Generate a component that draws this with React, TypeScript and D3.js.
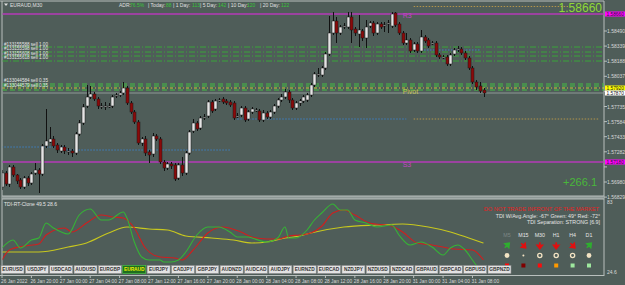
import * as d3 from "d3"

const W = 625
const H = 285

// EURAUD M30, bar 0 = 26 Jan 16:00
const opens = [
  1.5693, 1.5707, 1.5696, 1.5713, 1.5705, 1.57, 1.5693, 1.5702, 1.5697, 1.5707,
  1.571, 1.5706, 1.5734, 1.5738, 1.5741, 1.5735, 1.5729, 1.5733, 1.5729, 1.5729,
  1.5727, 1.5746, 1.5757, 1.5774, 1.5783, 1.5786, 1.5781, 1.5774, 1.5774, 1.5774,
  1.5774, 1.5784, 1.5785, 1.5787, 1.5792, 1.5777, 1.5768, 1.5758, 1.5737, 1.5741,
  1.5728, 1.5726, 1.5744, 1.5741, 1.5718, 1.5712, 1.5716, 1.5715, 1.5702, 1.5715,
  1.5707, 1.5727, 1.5749, 1.5757, 1.5752, 1.5763, 1.5764, 1.5778, 1.5771, 1.578,
  1.5781, 1.5779, 1.5778, 1.5777, 1.5764, 1.5765, 1.5772, 1.5761, 1.5768, 1.577,
  1.5769, 1.576, 1.5767, 1.5763, 1.5768, 1.5774, 1.578, 1.5783, 1.5788, 1.578,
  1.5772, 1.5777, 1.5779, 1.578, 1.5785, 1.5795, 1.5806, 1.5805, 1.5812, 1.5826,
  1.5847, 1.5859, 1.5847, 1.5854, 1.5853, 1.5863, 1.5851, 1.5846, 1.5849, 1.5842,
  1.5854, 1.5857, 1.5847, 1.5856, 1.5855, 1.5857, 1.5854, 1.5867, 1.5856, 1.5847,
  1.5837, 1.584, 1.583, 1.5836, 1.5829, 1.5843, 1.584, 1.5837, 1.5837, 1.5825,
  1.5823, 1.5823, 1.5816, 1.5826, 1.5831, 1.5831, 1.5827, 1.5822, 1.5812, 1.5798,
  1.5794, 1.579,
]
const highs = [
  1.571, 1.5709, 1.5715, 1.5715, 1.5706, 1.5702, 1.5704, 1.5704, 1.5708, 1.5717,
  1.5712, 1.5736, 1.5771, 1.5753, 1.5744, 1.5737, 1.5735, 1.5735, 1.5732, 1.5731,
  1.5748, 1.576, 1.5776, 1.5795, 1.5794, 1.5788, 1.5783, 1.5777, 1.5778, 1.5777,
  1.5785, 1.5787, 1.5789, 1.5798, 1.5794, 1.5779, 1.577, 1.576, 1.5743, 1.5744,
  1.573, 1.5747, 1.5746, 1.5743, 1.572, 1.5718, 1.5718, 1.5717, 1.5717, 1.5723,
  1.5729, 1.575, 1.5761, 1.5759, 1.5764, 1.5766, 1.578, 1.578, 1.5781, 1.5782,
  1.5783, 1.5781, 1.578, 1.5779, 1.5767, 1.5774, 1.5774, 1.577, 1.5773, 1.5772,
  1.5771, 1.577, 1.5769, 1.577, 1.5776, 1.5782, 1.5786, 1.5791, 1.579, 1.5782,
  1.5779, 1.5781, 1.5785, 1.5787, 1.5797, 1.5808, 1.5812, 1.5814, 1.5828, 1.5864,
  1.5868, 1.5863, 1.5855, 1.5857, 1.5868, 1.5868, 1.5853, 1.5865, 1.5851, 1.586,
  1.5859, 1.5859, 1.5858, 1.5858, 1.5858, 1.586, 1.5868, 1.5868, 1.5858, 1.5849,
  1.5847, 1.5842, 1.5838, 1.5838, 1.585, 1.5845, 1.5842, 1.5839, 1.5839, 1.5827,
  1.5825, 1.5825, 1.5827, 1.5832, 1.5834, 1.5833, 1.5829, 1.5824, 1.5814, 1.58,
  1.5798, 1.5792,
]
const lows = [
  1.569, 1.5694, 1.5693, 1.5703, 1.5696, 1.5691, 1.5691, 1.5694, 1.5695, 1.5705,
  1.5687, 1.5704, 1.5732, 1.5737, 1.5732, 1.5727, 1.5727, 1.5726, 1.5725, 1.5723,
  1.5725, 1.5744, 1.5755, 1.5772, 1.5781, 1.5779, 1.5771, 1.5771, 1.577, 1.5772,
  1.5772, 1.5782, 1.5783, 1.5785, 1.5775, 1.5766, 1.5756, 1.5735, 1.5734, 1.5724,
  1.5717, 1.5723, 1.5739, 1.5716, 1.5709, 1.571, 1.5711, 1.5699, 1.57, 1.5704,
  1.5705, 1.5725, 1.5747, 1.5749, 1.575, 1.576, 1.5762, 1.5767, 1.5769, 1.5778,
  1.5776, 1.5775, 1.5773, 1.576, 1.5762, 1.5763, 1.5758, 1.5759, 1.5766, 1.5768,
  1.5758, 1.5758, 1.5761, 1.5761, 1.5766, 1.5772, 1.5778, 1.5781, 1.5777, 1.577,
  1.577, 1.5774, 1.5777, 1.5778, 1.5783, 1.5793, 1.5803, 1.5803, 1.581, 1.5824,
  1.5845, 1.5837, 1.5845, 1.5851, 1.5851, 1.5837, 1.5844, 1.5833, 1.5839, 1.5832,
  1.5852, 1.5844, 1.5845, 1.5851, 1.5848, 1.5847, 1.5852, 1.5853, 1.5845, 1.5835,
  1.5835, 1.5827, 1.5828, 1.5827, 1.5827, 1.5837, 1.5832, 1.5835, 1.5823, 1.5821,
  1.5821, 1.5814, 1.5814, 1.5824, 1.5828, 1.5825, 1.582, 1.581, 1.5796, 1.579,
  1.5787, 1.5783,
]
const closes = [
  1.5707, 1.5696, 1.5713, 1.5705, 1.5699, 1.5693, 1.5702, 1.5697, 1.5706, 1.571,
  1.5706, 1.5734, 1.5739, 1.5741, 1.5734, 1.573, 1.5733, 1.5729, 1.5729, 1.5727,
  1.5746, 1.5757, 1.5773, 1.5783, 1.5786, 1.5781, 1.5774, 1.5774, 1.5774, 1.5774,
  1.5783, 1.5785, 1.5787, 1.5792, 1.5777, 1.5768, 1.5758, 1.5737, 1.5741, 1.5727,
  1.5725, 1.5744, 1.5741, 1.5718, 1.5712, 1.5716, 1.5714, 1.5701, 1.5715, 1.5707,
  1.5727, 1.5748, 1.5757, 1.5751, 1.5762, 1.5763, 1.5778, 1.5769, 1.5779, 1.578,
  1.5778, 1.5777, 1.5775, 1.5762, 1.5764, 1.5772, 1.576, 1.5768, 1.5771, 1.577,
  1.576, 1.5767, 1.5763, 1.5768, 1.5774, 1.578, 1.5783, 1.5788, 1.578, 1.5772,
  1.5777, 1.5779, 1.5783, 1.5785, 1.5795, 1.5806, 1.5806, 1.5812, 1.5826, 1.5847,
  1.5859, 1.5847, 1.5853, 1.5854, 1.5863, 1.585, 1.5847, 1.585, 1.5842, 1.5853,
  1.5857, 1.5847, 1.5856, 1.5853, 1.5855, 1.5857, 1.5866, 1.5855, 1.5847, 1.5837,
  1.584, 1.5829, 1.5836, 1.5829, 1.5843, 1.5839, 1.5834, 1.5837, 1.5825, 1.5823,
  1.5823, 1.5816, 1.5825, 1.583, 1.5831, 1.5827, 1.5822, 1.5812, 1.5798, 1.5793,
  1.5789, 1.5787,
]

const priceTicks = [
  1.5849, 1.58339, 1.58188, 1.58037, 1.57886, 1.57735, 1.57584, 1.57433, 1.57282,
  1.57131, 1.5698, 1.56829,
]

const dateBars = [0, 8, 16, 24, 32, 40, 48, 56, 64, 72, 80, 88, 96, 104, 112, 120, 128]
const dateLabels = [
  "26 Jan 2022", "26 Jan 20:00", "27 Jan 00:00", "27 Jan 04:00", "27 Jan 08:00",
  "27 Jan 12:00", "27 Jan 16:00", "27 Jan 20:00", "28 Jan 00:00", "28 Jan 04:00",
  "28 Jan 08:00", "28 Jan 12:00", "28 Jan 16:00", "28 Jan 20:00", "31 Jan 00:00",
  "31 Jan 04:00", "31 Jan 08:00",
]

const pairs = [
  "EURUSD", "USDJPY", "USDCAD", "AUDUSD", "EURGBP", "EURAUD", "EURJPY", "CADJPY",
  "GBPJPY", "AUDNZD", "AUDCAD", "AUDJPY", "EURNZD", "EURCAD", "NZDJPY", "NZDUSD",
  "NZDCAD", "GBPAUD", "GBPCAD", "GBPUSD", "GBPNZD",
]
const activePair = "EURAUD"

// pivot levels
const r3 = 1.5866
const s3 = 1.5718
const pivot = 1.5792
const bid = 1.5787

const sellOrders1 = [1.5833, 1.5828, 1.5824, 1.5819]
const sellLabels1 = ["#133155588 sell 1.00", "#133155598 sell 1.00", "#133155608 sell 1.00", "#133155618 sell 1.00"]
const sellOrders2 = [1.5796, 1.5794, 1.579]
const sellLabels2 = ["#133044584 sell 0.35", "#133044579 sell 0.35"]

// dotted day range segments: [price, fromBar, toBar]
const blueSegments: [number, number, number][] = [
  [1.5733, -1, 17.5],
  [1.573, 17.5, 62],
  [1.5761, 64, 110],
  [1.583, 114, 130],
]
const tanSegments: [number, number, number][] = [
  [1.58735, 112, 154],
  [1.5761, 112, 162.5],
]

// TDI lines: [bar, value]
const tdiGreen: [number, number][] = [
  [0, 44.6], [3, 51], [5, 44.6], [8, 51], [10, 52.6], [12, 64.6], [14, 60.6], [18, 55.8],
  [21, 71], [24, 75.8], [27, 67], [29, 67], [33, 73.4], [34, 68.6], [36, 49.4], [38, 37.4],
  [40, 35], [43, 35], [44, 33.4], [46, 33.4], [48, 35], [50, 41.4], [53, 55], [56, 61.4],
  [59, 61.4], [62, 57.4], [64, 53.4], [67, 53.4], [68, 52.6], [72, 49.4], [75, 52.6],
  [77, 61.4], [78, 52.6], [80, 52.6], [83, 59], [85, 67], [87, 72.6], [90, 79.8], [92, 75],
  [94, 75], [96, 67], [99, 64.6], [102, 61.4], [106, 63], [108, 55], [111, 47], [114, 49.4],
  [117, 45.4], [120, 39], [122, 44.6], [124, 47], [126, 43], [128, 35], [129, 31], [131, 27],
]
const tdiRed: [number, number][] = [
  [0, 35], [2, 43], [6, 46.2], [10, 47.8], [12, 55], [17, 60.6], [19, 57.4], [23, 64.6],
  [27, 71], [30, 69.4], [33, 68.6], [36, 60.6], [39, 44.6], [43, 37.4], [47, 36.6], [49, 35],
  [52, 43], [56, 56.6], [60, 61.4], [65, 57.4], [68, 53.4], [72, 51.8], [75, 51.8],
  [78, 54.2], [81, 55], [84, 56.6], [87, 62], [90, 72.6], [93, 75], [96, 71], [100, 64.6],
  [106, 62.2], [109, 57.4], [113, 48.6], [117, 47], [123, 43.8], [128, 43], [131, 35],
]
const tdiYellow: [number, number][] = [
  [0, 41.4], [10, 41.4], [18, 45.4], [23, 48.6], [29, 56.6], [34, 61.4], [40, 59.8], [45, 59],
  [50, 54.2], [57, 52.6], [63, 51], [68, 48.6], [72, 49.4], [77, 52.6], [81, 54.2], [84, 56.6],
  [93, 61.4], [102, 63], [109, 63.8], [116, 61.4], [122, 57.4], [127, 52.6], [131, 48.6],
]

const timeframes = ["M5", "M15", "M30", "H1", "H4", "D1"]
const tfArrowAngle = [-135, -45, 0, 0, -45, -135]
const tfArrowColor = ["#2fae2f", "#e01010", "#e01010", "#e01010", "#e01010", "#2fae2f"]
const tfCircle = ["fill", "dot", "ring", "ring", "ring", "fill"]
const tfSquare = ["#ff0a0a", "#800000", "#ff0a0a", "#ff9a00", "#9ee89e", "#9ee89e"]

const header = [
  { label: "ADR:", value: "76.5%", lx: 119, vx: 130 },
  { label: "| Today:", value: "88", lx: 148, vx: 166 },
  { label: "| 1 Day:", value: "113", lx: 173, vx: 192 },
  { label: "| 5 Day:", value: "142", lx: 200, vx: 218 },
  { label: "| 10 Day:", value: "120", lx: 228, vx: 247 },
  { label: "| 20 Day:", value: "122", lx: 260, vx: 281 },
]

const BG = "#4f5d59"
const FRAME = "#b9bfbd"
const FONT = "'Liberation Sans', Arial, sans-serif"

const App = () => {
  const right = 604
  const x = d3.scaleLinear().domain([0, 131]).range([2, 483.5])
  const y = d3.scaleLinear().domain([1.5683, 1.5866]).range([197, 14])
  const ty = d3.scaleLinear().domain([24.6, 83]).range([273, 200])

  const tdiLine = d3
    .line<[number, number]>()
    .x((d) => x(d[0]))
    .y((d) => ty(d[1]))
    .curve(d3.curveMonotoneX)

  const arrowPath = "M0,-3.2 L0,0.6 M-2.6,-0.2 L2.6,-0.2 L0,3.2 Z"
  const tfX = (i: number) => 507 + i * 16.4

  const boxes = [
    { p: r3, bg: "#ff00ff", fg: "#222" },
    { p: s3, bg: "#ff00ff", fg: "#222" },
    { p: pivot, bg: "#ffff00", fg: "#222" },
    { p: bid, bg: "#ffffff", fg: "#111" },
  ]
  // axis labels hidden under the price boxes
  const visibleTicks = priceTicks.filter((p) => boxes.every((b) => Math.abs(y(p) - y(b.p)) > 5))

  return (
    <div>
      <style>{"body{margin:0}"}</style>
      <svg width={W} height={H} style={{ display: "block", background: BG }} fontFamily={FONT}>
        <defs>
          <clipPath id="mainClip">
            <rect x={2.5} y={1.5} width={right - 2.5} height={194.5} />
          </clipPath>
          <clipPath id="tdiClip">
            <rect x={2.5} y={200} width={right - 2.5} height={75} />
          </clipPath>
        </defs>

        {/* frames */}
        <line x1={0} x2={right} y1={1} y2={1} stroke={FRAME} />
        <line x1={2} x2={2} y1={1} y2={276} stroke={FRAME} />
        <line x1={right} x2={right} y1={1} y2={276} stroke={FRAME} />
        <rect x={2} y={196} width={right - 2} height={3} fill="#8e9896" />
        <line x1={2} x2={right} y1={196} y2={196} stroke={FRAME} />
        <line x1={2} x2={right} y1={199} y2={199} stroke={FRAME} />
        <line x1={0} x2={right} y1={275.5} y2={275.5} stroke={FRAME} />

        <g clipPath="url(#mainClip)">
          {/* pivot lines */}
          {[r3, s3].map((p, i) => (
            <line key={i} x1={2} x2={right} y1={y(p)} y2={y(p)} stroke="#b53ab8" strokeWidth={1.3} />
          ))}
          {blueSegments.map(([p, a, b], i) => (
            <line key={"b" + i} x1={x(a)} x2={x(b)} y1={y(p)} y2={y(p)} stroke="#3d7fc4" strokeDasharray="1.5,1.5" />
          ))}
          {tanSegments.map(([p, a, b], i) => (
            <line key={"t" + i} x1={x(a)} x2={x(b)} y1={y(p)} y2={y(p)} stroke="#b4954a" strokeDasharray="1.5,1.5" />
          ))}
          {sellOrders1.map((p, i) => (
            <line key={"s1" + i} x1={2} x2={right} y1={y(p)} y2={y(p)} stroke="#3aa53a" strokeDasharray="6,2,1,2" />
          ))}
          {sellOrders2.map((p, i) => (
            <line key={"s2" + i} x1={2} x2={right} y1={y(p)} y2={y(p)} stroke="#44bf44" strokeWidth={1.2} strokeDasharray="5,3" />
          ))}
          <line x1={2} x2={right} y1={y(pivot)} y2={y(pivot)} stroke="#c9c93a" strokeDasharray="3,2,1,2" />
          <line x1={2} x2={right} y1={y(bid)} y2={y(bid)} stroke="#8f9997" />

          {/* candles */}
          {opens.map((o, i) => {
            const c = closes[i]
            const cx = Math.round(x(i)) + 0.5
            const top = y(Math.max(o, c))
            const bot = y(Math.min(o, c))
            const bull = c >= o
            return (
              <g key={i}>
                <line x1={cx} x2={cx} y1={y(highs[i])} y2={y(lows[i])} stroke="#111" />
                <rect
                  x={cx - 1.5}
                  y={top}
                  width={3}
                  height={Math.max(1, bot - top)}
                  fill={bull ? "#e4e4e4" : "#8a0a0a"}
                  stroke="#1a1a1a"
                  strokeWidth={0.5}
                />
              </g>
            )
          })}

          {/* level labels */}
          <text x={x(109)} y={y(r3) + 4} fontSize={7} fill="#c246c6">R3</text>
          <text x={x(109)} y={y(s3) + 4.5} fontSize={7} fill="#c246c6">S3</text>
          <text x={x(109)} y={y(pivot) + 6} fontSize={7} fill="#c8c850">Pivot</text>

          {sellLabels1.map((t, i) => (
            <text key={"l1" + i} x={4} y={45.5 + i * 4.5} fontSize={4.6} fill="#e6e6e6">{t}</text>
          ))}
          {sellLabels2.map((t, i) => (
            <text key={"l2" + i} x={4} y={82 + i * 5} fontSize={4.6} fill="#e6e6e6">{t}</text>
          ))}

          <text x={602} y={12} fontSize={12} fill="#8fd836" textAnchor="end">1.58660</text>
          <text x={597} y={186} fontSize={11} fill="#49b83a" textAnchor="end">+266.1</text>
        </g>

        {/* header */}
        <path d="M4,3.5 L8,3.5 L6,6 Z" fill="#e0e0e0" />
        <text x={10} y={7} fontSize={5} fill="#e0e0e0">EURAUD,M30</text>
        {header.map((h, i) => (
          <g key={i}>
            <text x={h.lx} y={7} fontSize={5} fill="#e0e0e0">{h.label}</text>
            <text x={h.vx} y={7} fontSize={5} fill="#39c239">{h.value}</text>
          </g>
        ))}

        {/* price axis */}
        {priceTicks.map((p, i) => (
          <line key={"tk" + i} x1={right} x2={right + 3} y1={y(p)} y2={y(p)} stroke={FRAME} />
        ))}
        {visibleTicks.map((p, i) => (
          <text key={"tl" + i} x={607} y={y(p) + 2} fontSize={5} fill="#d8d8d8">{p.toFixed(5)}</text>
        ))}
        {boxes.map((b, i) => (
          <g key={"box" + i}>
            <rect x={right + 1} y={y(b.p) - 2.5} width={20} height={5} fill={b.bg} />
            <text x={606.5} y={y(b.p) + 1.8} fontSize={4.8} fill={b.fg}>{b.p.toFixed(5)}</text>
          </g>
        ))}

        {/* TDI */}
        <g clipPath="url(#tdiClip)">
          <path d={tdiLine(tdiYellow) || ""} fill="none" stroke="#c8c81e" strokeWidth={1.1} />
          <path d={tdiLine(tdiRed) || ""} fill="none" stroke="#d21e1e" strokeWidth={1.1} />
          <path d={tdiLine(tdiGreen) || ""} fill="none" stroke="#36b336" strokeWidth={1.1} />
        </g>
        <text x={4} y={206} fontSize={5} fill="#e6e6e6">TDI-RT-Clone 49.5 28.6</text>
        <text x={607} y={204} fontSize={5} fill="#d8d8d8">83</text>
        <text x={607} y={274} fontSize={5} fill="#d8d8d8">24.6</text>

        <text x={599} y={211} fontSize={5.6} fill="#e52222" textAnchor="end">DO NOT TRADE INFRONT OF THE MARKET</text>
        <text x={600} y={217.5} fontSize={5.3} fill="#e6e6e6" textAnchor="end">TDI W/Avg.Angle: -67°  Green: 49°  Red: -72°</text>
        <text x={600} y={224} fontSize={5.3} fill="#e6e6e6" textAnchor="end">TDI Separation: STRONG [6.9]</text>

        {timeframes.map((tf, i) => (
          <g key={tf}>
            <text x={tfX(i)} y={237} fontSize={5.3} textAnchor="middle" fill={i === 0 ? "#7d8785" : "#e6e6e6"}>{tf}</text>
            <path
              d={arrowPath}
              transform={`translate(${tfX(i)},245.5) rotate(${tfArrowAngle[i]})`}
              stroke={tfArrowColor[i]}
              strokeWidth={1.6}
              fill={tfArrowColor[i]}
            />
            {tfCircle[i] === "fill" && <circle cx={tfX(i)} cy={255.5} r={2.4} fill="#f3e3c3" />}
            {tfCircle[i] === "dot" && <circle cx={tfX(i)} cy={255.5} r={1} fill="#f3e3c3" />}
            {tfCircle[i] === "ring" && (
              <circle cx={tfX(i)} cy={255.5} r={2.1} fill="none" stroke="#f3e3c3" strokeWidth={1.3} />
            )}
            <rect x={tfX(i) - 2} y={263.5} width={4} height={4} fill={tfSquare[i]} />
          </g>
        ))}

        {/* symbol tabs */}
        {pairs.map((p, i) => {
          const tx = 1 + i * 24.35
          const active = p === activePair
          return (
            <g key={p}>
              <rect
                x={tx}
                y={265.5}
                width={23}
                height={8}
                fill={active ? "#1f6d1f" : "#e2e2e2"}
                stroke={active ? "#49d049" : "#8a8a8a"}
                strokeWidth={0.6}
              />
              <text
                x={tx + 11.5}
                y={271.3}
                fontSize={4.8}
                fontWeight="bold"
                textAnchor="middle"
                fill={active ? "#f2f200" : "#333"}
              >
                {p}
              </text>
            </g>
          )
        })}

        {/* time axis */}
        {dateBars.map((b, i) => (
          <g key={b}>
            <line x1={x(b)} x2={x(b)} y1={275.5} y2={278} stroke={FRAME} />
            <text x={i === 0 ? 1 : x(b) - 1} y={282.5} fontSize={4.8} fill="#d8d8d8">{dateLabels[i]}</text>
          </g>
        ))}
      </svg>
    </div>
  )
}

export default App
